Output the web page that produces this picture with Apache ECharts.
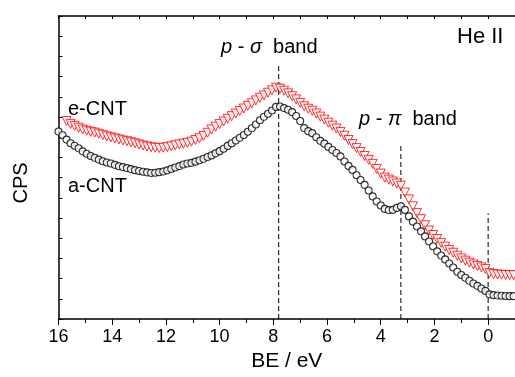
<!DOCTYPE html>
<html>
<head>
<meta charset="utf-8">
<script src="https://cdn.jsdelivr.net/npm/echarts@6/dist/echarts.min.js"></script>
<style>html,body{margin:0;padding:0;background:#fff}#c{width:515px;height:377px}</style>
</head>
<body>
<div id="c"></div>
<script>
// Binding energy (eV), shared by both series
const BE = [16.00,15.85,15.70,15.55,15.40,15.25,15.10,14.95,14.80,14.65,14.50,14.35,14.20,14.05,13.90,13.75,13.60,13.45,13.30,13.15,13.00,12.85,12.70,12.55,12.40,12.25,12.10,11.95,11.80,11.65,11.50,11.35,11.20,11.05,10.90,10.75,10.60,10.45,10.30,10.15,10.00,9.85,9.70,9.55,9.40,9.25,9.10,8.95,8.80,8.65,8.50,8.35,8.20,8.05,7.90,7.75,7.60,7.45,7.30,7.15,7.00,6.85,6.70,6.55,6.40,6.25,6.10,5.95,5.80,5.65,5.50,5.35,5.20,5.05,4.90,4.75,4.60,4.45,4.30,4.15,4.00,3.85,3.70,3.55,3.40,3.25,3.10,2.95,2.80,2.65,2.50,2.35,2.20,2.05,1.90,1.75,1.60,1.45,1.30,1.15,1.00,0.85,0.70,0.55,0.40,0.25,0.10,-0.05,-0.20,-0.35,-0.50,-0.65,-0.80,-0.95];
// a-CNT (black open circles)
const aCNT = [9.28,9.10,8.88,8.70,8.58,8.45,8.30,8.18,8.07,7.98,7.89,7.81,7.75,7.70,7.63,7.56,7.52,7.47,7.42,7.37,7.33,7.29,7.26,7.23,7.24,7.27,7.30,7.36,7.43,7.50,7.57,7.65,7.70,7.73,7.79,7.86,7.93,8.02,8.10,8.20,8.31,8.43,8.57,8.70,8.84,8.97,9.11,9.27,9.44,9.63,9.84,10.01,10.16,10.32,10.50,10.52,10.44,10.36,10.24,10.05,9.80,9.45,9.30,9.20,9.00,8.82,8.68,8.52,8.37,8.22,8.05,7.80,7.58,7.38,7.12,6.88,6.64,6.36,6.07,5.82,5.62,5.45,5.39,5.40,5.50,5.58,5.40,5.08,4.82,4.58,4.34,4.09,3.84,3.60,3.35,3.14,2.95,2.75,2.55,2.34,2.18,2.04,1.89,1.76,1.64,1.51,1.39,1.22,1.18,1.16,1.15,1.14,1.13,1.13];
// e-CNT (red open triangles)
const eCNT = [null,null,9.80,9.66,9.56,9.47,9.38,9.32,9.27,9.23,9.17,9.10,9.04,8.99,8.94,8.89,8.84,8.80,8.75,8.70,8.64,8.59,8.54,8.50,8.48,8.46,8.48,8.51,8.55,8.60,8.64,8.68,8.72,8.78,8.86,8.95,9.06,9.22,9.38,9.52,9.65,9.78,9.91,10.04,10.17,10.30,10.42,10.55,10.68,10.82,10.95,11.07,11.20,11.32,11.45,11.40,11.30,11.17,11.03,10.87,10.70,10.53,10.41,10.31,10.17,10.02,9.87,9.72,9.57,9.43,9.26,9.07,8.86,8.66,8.46,8.27,8.07,7.88,7.68,7.43,7.20,7.00,6.90,6.81,6.71,6.60,6.26,5.92,5.58,5.24,4.94,4.64,4.38,4.16,3.96,3.77,3.58,3.42,3.28,3.13,3.00,2.89,2.79,2.70,2.62,2.55,2.47,2.27,2.22,2.20,2.19,2.18,2.17,2.17];
// Dashed band markers: position (eV) and top of line (CPS units)
const markerBE = [7.8, 3.25, 0];
const markerTop = [12.57, 8.62, 5.23];
// Tick labels
const xTickLabels = [16,14,12,10,8,6,4,2,0];

const FONT = "'Liberation Sans', Arial, sans-serif";
const chart = echarts.init(document.getElementById('c'), null, {renderer:'canvas'});

const pts = (ys) => BE.map((x,i) => ys[i] == null ? null : [x, ys[i]]).filter(p => p);

const dashSeries = markerBE.map((x,i) => ({
  type:'line', xAxisIndex:0, yAxisIndex:0, silent:true, symbol:'none',
  data:[[x,0],[x,markerTop[i]]],
  lineStyle:{color:'#000', width:1, type:[5,3]}, z:1
}));

chart.setOption({
  animation:false,
  backgroundColor:'#fff',
  grid:{left:58.5, right:-2, top:16, bottom:53, containLabel:false},
  xAxis:[
    {type:'value', position:'bottom', min:-1, max:16, interval:1, inverse:true,
     axisLine:{show:true, onZero:false, lineStyle:{color:'#000', width:1.5}},
     axisTick:{show:true, inside:false, length:6, customValues:xTickLabels, lineStyle:{color:'#000', width:1}},
     axisLabel:{show:true, customValues:xTickLabels, color:'#000', fontSize:18, fontFamily:FONT, margin:9},
     splitLine:{show:false},
     name:'BE / eV', nameLocation:'middle', nameGap:32,
     nameTextStyle:{color:'#000', fontSize:21, fontFamily:FONT}},
    {type:'value', position:'bottom', min:-1, max:16, interval:1, inverse:true, gridIndex:0,
     axisLine:{show:false, onZero:false},
     axisTick:{show:true, inside:false, length:4, lineStyle:{color:'#000', width:1}},
     axisLabel:{show:false}, splitLine:{show:false}},
    {type:'value', position:'top', min:-1, max:16, interval:1, inverse:true, gridIndex:0,
     axisLine:{show:true, onZero:false, lineStyle:{color:'#000', width:1.5}},
     axisTick:{show:true, inside:true, length:3, lineStyle:{color:'#000', width:1}},
     axisLabel:{show:false}, splitLine:{show:false}}
  ],
  yAxis:[
    {type:'value', min:0, max:15, interval:1,
     axisLine:{show:true, onZero:false, lineStyle:{color:'#000', width:1.5}},
     axisTick:{show:true, inside:true, length:4, lineStyle:{color:'#000', width:1}},
     axisLabel:{show:false}, splitLine:{show:false}}
  ],
  series:[
    ...dashSeries,
    {type:'scatter', name:'a-CNT', data:pts(aCNT), symbol:'circle', symbolSize:7,
     itemStyle:{color:'#fff', borderColor:'#000', borderWidth:1.1}, z:3},
    {type:'scatter', name:'e-CNT', data:pts(eCNT), symbol:'triangle', symbolRotate:180, symbolSize:9,
     itemStyle:{color:'#fff', borderColor:'#ff0000', borderWidth:1}, z:4}
  ],
  graphic:[
    {type:'text', left:457, top:26, style:{text:'He II', fill:'#000', font:"22px "+FONT}},
    {type:'text', left:221, top:37, style:{text:'{i|p} - {i|σ}  band', fill:'#000', font:"20px "+FONT,
      rich:{i:{fontStyle:'italic', fontSize:20, fontFamily:FONT, fill:'#000'}}}},
    {type:'text', left:359, top:109, style:{text:'{i|p} - {i|π}  band', fill:'#000', font:"20px "+FONT,
      rich:{i:{fontStyle:'italic', fontSize:20, fontFamily:FONT, fill:'#000'}}}},
    {type:'text', left:68, top:99, style:{text:'e-CNT', fill:'#000', font:"20px "+FONT}},
    {type:'text', left:68, top:176, style:{text:'a-CNT', fill:'#000', font:"20px "+FONT}},
    {type:'text', x:21, y:183, rotation:Math.PI/2, style:{text:'CPS', fill:'#000', font:"20px "+FONT, align:'center', verticalAlign:'middle'}}
  ]
});
</script>
</body>
</html>
